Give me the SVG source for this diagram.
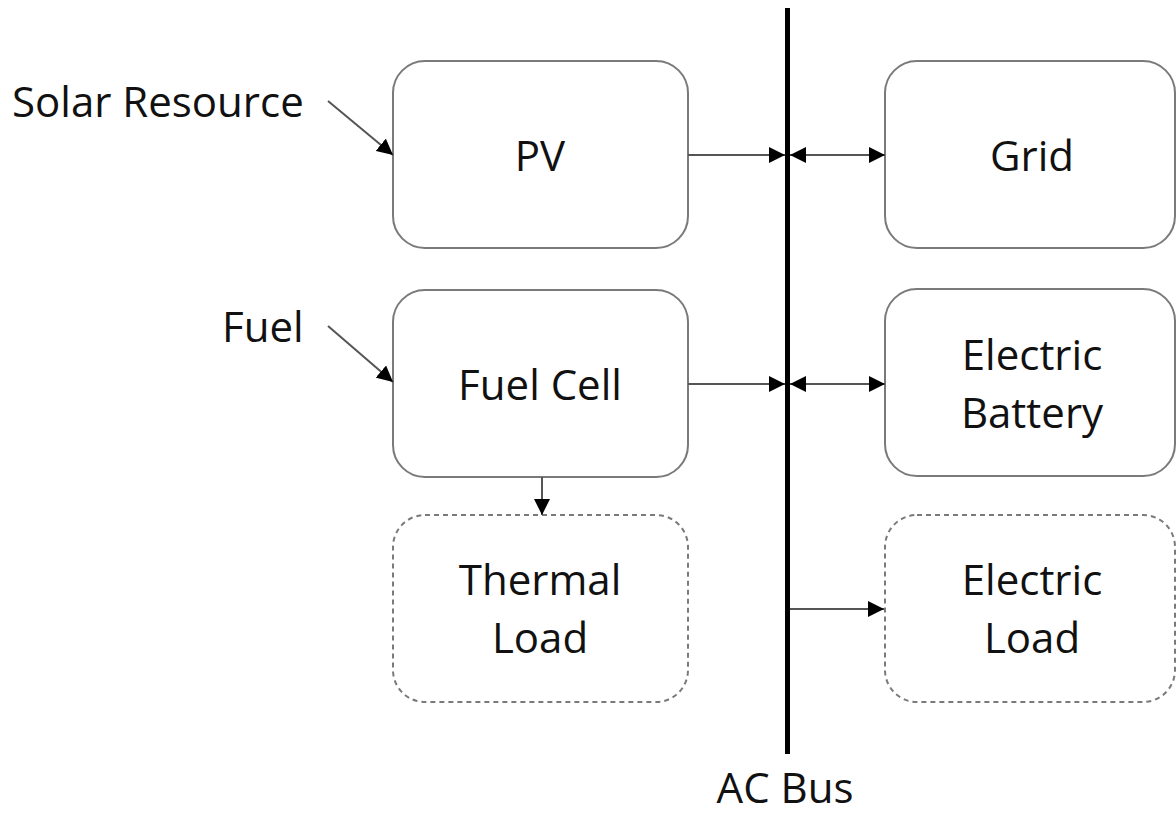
<svg xmlns="http://www.w3.org/2000/svg" width="1176" height="816" viewBox="0 0 1176 816">
<style>
.box{fill:#fff;stroke:#7a7a7a;stroke-width:2}
.dash{fill:#fff;stroke:#7a7a7a;stroke-width:2;stroke-dasharray:5 4}
.t{font-family:"Open Sans","Noto Sans",sans-serif;font-size:42px;fill:#111}
.c{text-anchor:middle}
.ln{stroke:#555;stroke-width:2;fill:none}
</style>
<defs>
<marker id="ah" viewBox="0 0 10 10" refX="10" refY="5" markerWidth="16" markerHeight="16" markerUnits="userSpaceOnUse" orient="auto-start-reverse">
<path d="M0,0 L10,5 L0,10 Z" fill="#000"/>
</marker>
</defs>
<rect width="1176" height="816" fill="#fff"/>
<g id="bus">
<rect x="785" y="8" width="5" height="746" fill="#000"/>
<text class="t c" x="785" y="803">AC Bus</text>
</g>
<g id="pv">
<rect class="box" x="393" y="61" width="295" height="187" rx="32"/>
<text class="t c" x="540" y="171">PV</text>
</g>
<g id="fuelcell">
<rect class="box" x="393" y="290" width="295" height="187" rx="32"/>
<text class="t c" x="540" y="400">Fuel Cell</text>
</g>
<g id="thermalload">
<rect class="dash" x="393" y="515" width="295" height="187" rx="32"/>
<text class="t c" x="540" y="595">Thermal</text>
<text class="t c" x="540" y="653">Load</text>
</g>
<g id="grid">
<rect class="box" x="885" y="61" width="290" height="187" rx="32"/>
<text class="t c" x="1032" y="171">Grid</text>
</g>
<g id="battery">
<rect class="box" x="885" y="289" width="290" height="187" rx="32"/>
<text class="t c" x="1032" y="370">Electric</text>
<text class="t c" x="1032" y="428">Battery</text>
</g>
<g id="electricload">
<rect class="dash" x="885" y="515" width="290" height="187" rx="32"/>
<text class="t c" x="1032" y="595">Electric</text>
<text class="t c" x="1032" y="653">Load</text>
</g>
<g id="inputs">
<text class="t" x="12" y="117">Solar Resource</text>
<text class="t" x="222" y="342">Fuel</text>
</g>
<g id="connectors">
<line class="ln" x1="328" y1="101" x2="393" y2="155" marker-end="url(#ah)"/>
<line class="ln" x1="328" y1="326" x2="393" y2="382" marker-end="url(#ah)"/>
<line class="ln" x1="688" y1="155" x2="785" y2="155" marker-end="url(#ah)"/>
<line class="ln" x1="790" y1="155" x2="885" y2="155" marker-start="url(#ah)" marker-end="url(#ah)"/>
<line class="ln" x1="688" y1="384" x2="785" y2="384" marker-end="url(#ah)"/>
<line class="ln" x1="790" y1="384" x2="885" y2="384" marker-start="url(#ah)" marker-end="url(#ah)"/>
<line class="ln" x1="790" y1="609" x2="884" y2="609" marker-end="url(#ah)"/>
<line class="ln" x1="542" y1="477" x2="542" y2="515" marker-end="url(#ah)"/>
</g>
</svg>
